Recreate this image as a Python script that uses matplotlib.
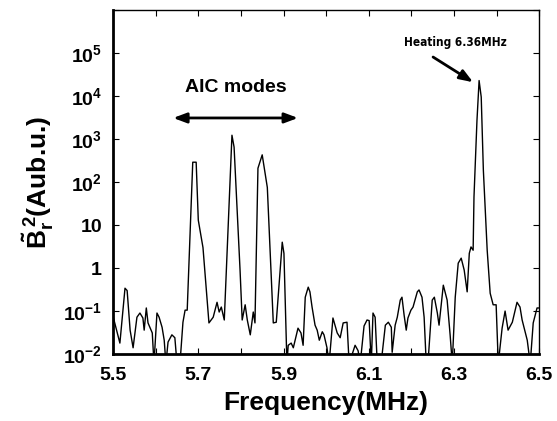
import matplotlib
matplotlib.use("Agg")
import matplotlib.pyplot as plt
from matplotlib.ticker import FixedLocator, NullLocator

plt.rcParams['font.family'] = ['Liberation Sans', 'DejaVu Sans']
plt.rcParams['font.weight'] = 'bold'
plt.rcParams['mathtext.fontset'] = 'custom'
plt.rcParams['mathtext.rm'] = 'Liberation Sans:bold'
plt.rcParams['mathtext.bf'] = 'Liberation Sans:bold'
plt.rcParams['mathtext.it'] = 'Liberation Sans:bold'

freq = [5.500, 5.516, 5.528, 5.533, 5.540, 5.547, 5.556, 5.563, 5.570, 5.573,
        5.578, 5.582, 5.592, 5.596, 5.603, 5.608, 5.615, 5.620, 5.624, 5.629,
        5.638, 5.645, 5.650, 5.657, 5.664, 5.669, 5.674, 5.687, 5.695, 5.700,
        5.711, 5.725, 5.735, 5.744, 5.749, 5.754, 5.761, 5.779, 5.784, 5.798,
        5.803, 5.810, 5.815, 5.822, 5.829, 5.833, 5.840, 5.850, 5.862, 5.876,
        5.883, 5.897, 5.901, 5.908, 5.911, 5.918, 5.923, 5.934, 5.941, 5.946,
        5.951, 5.958, 5.962, 5.967, 5.974, 5.979, 5.984, 5.991, 5.995, 6.002,
        6.007, 6.016, 6.026, 6.033, 6.040, 6.049, 6.054, 6.068, 6.075, 6.080,
        6.089, 6.096, 6.101, 6.106, 6.110, 6.115, 6.120, 6.129, 6.139, 6.146,
        6.153, 6.155, 6.162, 6.167, 6.174, 6.178, 6.183, 6.188, 6.192, 6.199,
        6.204, 6.214, 6.218, 6.225, 6.230, 6.235, 6.239, 6.249, 6.254, 6.261,
        6.265, 6.275, 6.284, 6.291, 6.296, 6.303, 6.310, 6.317, 6.324, 6.331,
        6.336, 6.340, 6.345, 6.347, 6.354, 6.359, 6.364, 6.369, 6.378, 6.385,
        6.392, 6.399, 6.404, 6.413, 6.420, 6.427, 6.437, 6.448, 6.455, 6.460,
        6.472, 6.479, 6.486, 6.495, 6.500]

power = [0.075, 0.018, 0.34, 0.30, 0.036, 0.014, 0.072, 0.090, 0.069, 0.036,
         0.118, 0.053, 0.031, 0.006, 0.090, 0.072, 0.042, 0.021, 0.006, 0.019,
         0.028, 0.024, 0.006, 0.006, 0.055, 0.105, 0.105, 290, 290, 13,
         3.0, 0.053, 0.072, 0.16, 0.095, 0.124, 0.062, 1230, 650, 0.9,
         0.062, 0.14, 0.062, 0.028, 0.095, 0.053, 210, 430, 75, 0.053,
         0.055, 4.0, 2.2, 0.006, 0.016, 0.018, 0.014, 0.040, 0.031, 0.016,
         0.21, 0.36, 0.28, 0.124, 0.047, 0.036, 0.021, 0.033, 0.028, 0.014,
         0.006, 0.069, 0.031, 0.024, 0.053, 0.055, 0.006, 0.016, 0.012, 0.006,
         0.045, 0.062, 0.06, 0.006, 0.090, 0.072, 0.006, 0.006, 0.047, 0.055,
         0.042, 0.011, 0.047, 0.072, 0.18, 0.21, 0.081, 0.036, 0.069, 0.105,
         0.124, 0.28, 0.31, 0.21, 0.072, 0.006, 0.006, 0.18, 0.21, 0.090,
         0.047, 0.40, 0.18, 0.028, 0.006, 0.21, 1.3, 1.7, 0.9, 0.28,
         2.2, 3.1, 2.6, 45, 2700, 23000, 9500, 190, 2.6, 0.26,
         0.14, 0.14, 0.006, 0.040, 0.10, 0.036, 0.055, 0.16, 0.124, 0.062,
         0.021, 0.006, 0.053, 0.118, 0.118]

x_ticks = [5.5, 5.6, 5.7, 5.8, 5.9, 6.0, 6.1, 6.2, 6.3, 6.4, 6.5]
x_labels = ['5.5', '', '5.7', '', '5.9', '', '6.1', '', '6.3', '', '6.5']
y_ticks = [1e-2, 1e-1, 1, 10, 1e2, 1e3, 1e4, 1e5, 1e6]
y_labels = ['10$^{-2}$', '10$^{-1}$', '1', '10', '10$^{2}$', '10$^{3}$',
            '10$^{4}$', '10$^{5}$', '']

fig = plt.figure(figsize=(5.57, 4.21), dpi=100)
ax = fig.add_axes([0.203, 0.159, 0.765, 0.817])
ax.plot(freq, power, color='black', lw=1.0)
ax.set_yscale('log')
ax.set_xlim(5.5, 6.5)
ax.set_ylim(1e-2, 1e6)

ax.xaxis.set_major_locator(FixedLocator(x_ticks))
ax.set_xticklabels(x_labels)
ax.yaxis.set_major_locator(FixedLocator(y_ticks))
ax.yaxis.set_minor_locator(NullLocator())
ax.set_yticklabels(y_labels)

ax.tick_params(axis='both', direction='in', length=4, width=0.8,
               top=True, right=True, labelsize=14)
ax.tick_params(axis='x', pad=9)
ax.tick_params(axis='y', pad=8)
for lab in ax.get_xticklabels() + ax.get_yticklabels():
    lab.set_fontweight('bold')

ax.spines['left'].set_linewidth(2.0)
ax.spines['bottom'].set_linewidth(2.0)
ax.spines['top'].set_linewidth(1.0)
ax.spines['right'].set_linewidth(1.0)

ax.set_xlabel('Frequency(MHz)', fontsize=19, fontweight='bold', labelpad=5)
ax.set_ylabel(r'$\tilde{\mathrm{B}}_{\mathrm{r}}^{\,2}$(Aub.u.)', fontsize=19,
              fontweight='bold', labelpad=5)

ax.annotate('', xy=(5.641, 3100), xytext=(5.934, 3100),
            arrowprops=dict(arrowstyle='<|-|>,head_length=0.8,head_width=0.3',
                            color='black', lw=2.0, shrinkA=0, shrinkB=0))
ax.text(5.789, 16000, 'AIC modes', ha='center', va='center',
        fontsize=14, fontweight='bold')

ax.annotate('', xy=(6.345, 21000), xytext=(6.251, 8.1e4),
            arrowprops=dict(arrowstyle='-|>,head_length=0.8,head_width=0.3',
                            color='black', lw=2.0, shrinkA=0, shrinkB=0))
ax.text(6.303, 1.75e5, 'Heating 6.36MHz', ha='center', va='center',
        fontsize=8.5, fontweight='bold', fontstretch='condensed',
        family=['DejaVu Sans'])

fig.savefig('out.png', dpi=100)
